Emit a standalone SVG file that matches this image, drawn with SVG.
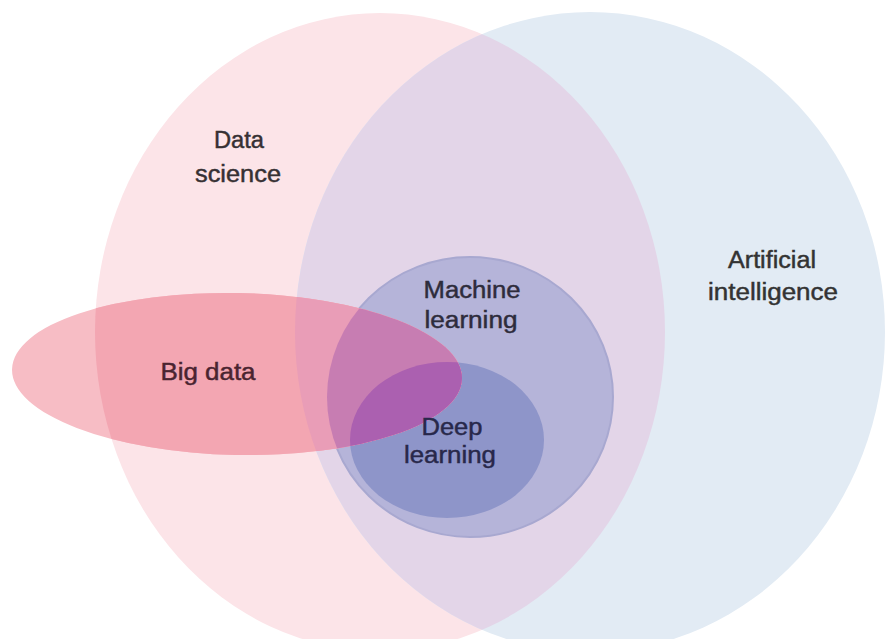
<svg xmlns="http://www.w3.org/2000/svg" width="889" height="639" viewBox="0 0 889 639">
  <style>
    .lbl { font-family: "Liberation Sans", Arial, Helvetica, sans-serif; font-size: 23px; text-anchor: middle; fill: #363033; stroke: #363033; stroke-width: 0.45; }
  </style>
  <defs>
    <ellipse id="dsShape" cx="380" cy="332" rx="285" ry="319"/>
    <ellipse id="aiShape" cx="590" cy="332" rx="295" ry="320"/>
    <ellipse id="mlShape" cx="470" cy="397" rx="143" ry="140"/>
    <ellipse id="dlShape" cx="447" cy="440" rx="97" ry="78"/>
    <ellipse id="bdShape" cx="237" cy="374" rx="225" ry="81" transform="rotate(1.2 237 374)"/>
    <clipPath id="clipDS"><use href="#dsShape"/></clipPath>
    <clipPath id="clipAI"><use href="#aiShape"/></clipPath>
    <clipPath id="clipML"><use href="#mlShape"/></clipPath>
    <clipPath id="clipDL"><use href="#dlShape"/></clipPath>
  </defs>
  <rect x="0" y="0" width="889" height="639" fill="#ffffff"/>
  <g id="data-science">
    <use href="#dsShape" fill="#fce4e8"/>
  </g>
  <g id="artificial-intelligence">
    <use href="#aiShape" fill="#e2ebf4"/>
    <g clip-path="url(#clipDS)"><use href="#aiShape" fill="#e3d5e8"/></g>
  </g>
  <g id="machine-learning">
    <use href="#mlShape" fill="#b5b4d9" stroke="#a8a8d0" stroke-width="2"/>
  </g>
  <g id="deep-learning">
    <use href="#dlShape" fill="#8e95c9"/>
  </g>
  <g id="big-data">
    <use href="#bdShape" fill="#f7bdc5"/>
    <g clip-path="url(#clipDS)">
      <use href="#bdShape" fill="#f3a6b2"/>
      <g clip-path="url(#clipAI)"><use href="#bdShape" fill="#e99db7"/></g>
    </g>
    <g clip-path="url(#clipML)"><use href="#bdShape" fill="#c77db2"/></g>
    <g clip-path="url(#clipDL)"><use href="#bdShape" fill="#ab60b0"/></g>
  </g>
  <g id="labels">
    <text class="lbl" x="239" y="148" textLength="50" lengthAdjust="spacingAndGlyphs">Data</text>
    <text class="lbl" x="238" y="182" textLength="86" lengthAdjust="spacingAndGlyphs">science</text>
    <text class="lbl" x="772" y="268" textLength="88" lengthAdjust="spacingAndGlyphs" style="fill:#333333;stroke:#333333">Artificial</text>
    <text class="lbl" x="773" y="300" textLength="130" lengthAdjust="spacingAndGlyphs" style="fill:#333333;stroke:#333333">intelligence</text>
    <text class="lbl" x="472" y="298" textLength="97" lengthAdjust="spacingAndGlyphs" style="fill:#2e2c3c;stroke:#2e2c3c">Machine</text>
    <text class="lbl" x="471" y="328" textLength="93" lengthAdjust="spacingAndGlyphs" style="fill:#2e2c3c;stroke:#2e2c3c">learning</text>
    <text class="lbl" x="208" y="380" textLength="95" lengthAdjust="spacingAndGlyphs" style="fill:#4a2430;stroke:#4a2430">Big data</text>
    <text class="lbl" x="452" y="435" textLength="61" lengthAdjust="spacingAndGlyphs" style="fill:#28284a;stroke:#28284a">Deep</text>
    <text class="lbl" x="450" y="463" textLength="92" lengthAdjust="spacingAndGlyphs" style="fill:#28284a;stroke:#28284a">learning</text>
  </g>
</svg>
